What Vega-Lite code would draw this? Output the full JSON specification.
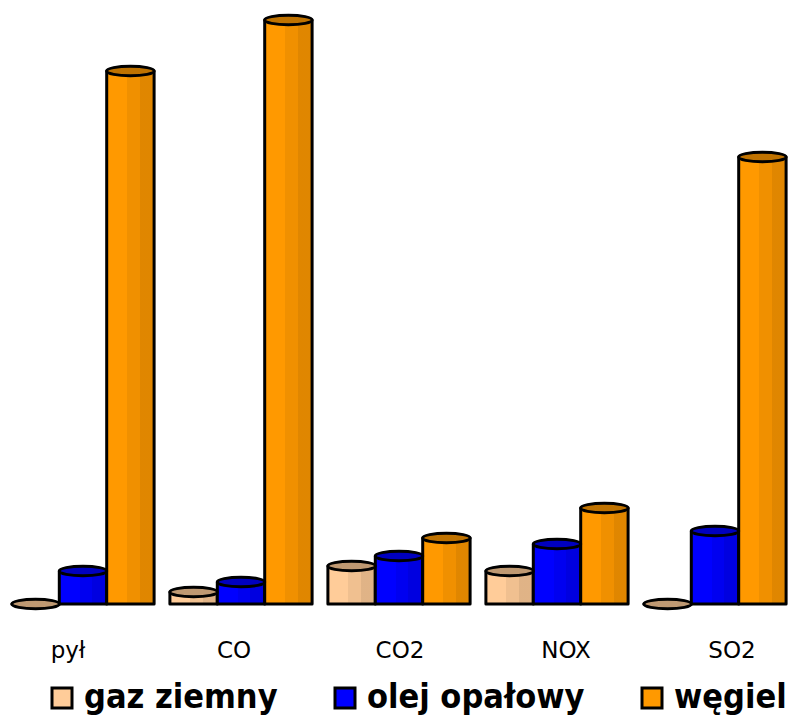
{
  "$schema": "https://vega.github.io/schema/vega-lite/v6.json",
  "autosize": "none",
  "width": 790,
  "height": 604,
  "padding": {"left": 4, "top": 0, "right": 7, "bottom": 112},
  "background": "white",
  "config": {"view": {"stroke": null}},
  "data": {
    "values": [
      {"zanieczyszczenie": "pył", "paliwo": "gaz ziemny", "emisja": 0},
      {"zanieczyszczenie": "pył", "paliwo": "olej opałowy", "emisja": 33},
      {"zanieczyszczenie": "pył", "paliwo": "węgiel", "emisja": 533},
      {"zanieczyszczenie": "CO", "paliwo": "gaz ziemny", "emisja": 12},
      {"zanieczyszczenie": "CO", "paliwo": "olej opałowy", "emisja": 22},
      {"zanieczyszczenie": "CO", "paliwo": "węgiel", "emisja": 584},
      {"zanieczyszczenie": "CO2", "paliwo": "gaz ziemny", "emisja": 38},
      {"zanieczyszczenie": "CO2", "paliwo": "olej opałowy", "emisja": 48},
      {"zanieczyszczenie": "CO2", "paliwo": "węgiel", "emisja": 66},
      {"zanieczyszczenie": "NOX", "paliwo": "gaz ziemny", "emisja": 33},
      {"zanieczyszczenie": "NOX", "paliwo": "olej opałowy", "emisja": 60},
      {"zanieczyszczenie": "NOX", "paliwo": "węgiel", "emisja": 96},
      {"zanieczyszczenie": "SO2", "paliwo": "gaz ziemny", "emisja": 0},
      {"zanieczyszczenie": "SO2", "paliwo": "olej opałowy", "emisja": 73},
      {"zanieczyszczenie": "SO2", "paliwo": "węgiel", "emisja": 447}
    ]
  },
  "encoding": {
    "x": {
      "field": "zanieczyszczenie",
      "type": "nominal",
      "sort": ["pył", "CO", "CO2", "NOX", "SO2"],
      "scale": {"paddingInner": 0.1, "paddingOuter": 0.05},
      "axis": {
        "title": null,
        "labelAngle": 0,
        "domain": false,
        "ticks": false,
        "labelFont": "DejaVu Sans",
        "labelFontSize": 23,
        "labelColor": "black",
        "labelPadding": 35,
        "labelOffset": {"expr": "-15 + 32 * datum.index"}
      }
    },
    "xOffset": {
      "field": "paliwo",
      "type": "nominal",
      "sort": ["gaz ziemny", "olej opałowy", "węgiel"]
    },
    "y": {
      "field": "emisja",
      "type": "quantitative",
      "scale": {"domain": [0, 604]},
      "axis": null
    }
  },
  "layer": [
    {
      "mark": {"type": "bar", "stroke": "black", "strokeWidth": 3, "strokeJoin": "round"},
      "encoding": {
        "color": {
          "field": "paliwo",
          "type": "nominal",
          "scale": {
            "domain": ["gaz ziemny", "olej opałowy", "węgiel"],
            "range": ["#FFCC99", "#0000FF", "#FF9900"]
          },
          "legend": {
            "title": null,
            "orient": "none",
            "direction": "horizontal",
            "legendX": 41,
            "legendY": 681,
            "symbolType": "square",
            "symbolSize": 400,
            "symbolStrokeColor": "black",
            "symbolStrokeWidth": 3,
            "symbolOpacity": 1,
            "labelFont": "'DejaVu Sans Condensed', 'Liberation Sans', sans-serif",
            "labelFontWeight": "bold",
            "labelFontSize": 34,
            "labelColor": "black",
            "labelOffset": 5,
            "columnPadding": 50,
            "labelLimit": 400
          }
        }
      }
    },
    {
      "mark": {
        "type": "bar",
        "strokeWidth": 0,
        "fill": {
          "gradient": "linear",
          "x1": 0, "x2": 1, "y1": 0, "y2": 0,
          "stops": [
            {"offset": 0, "color": "rgba(0,0,0,0)"},
            {"offset": 0.43, "color": "rgba(0,0,0,0)"},
            {"offset": 0.43, "color": "rgba(0,0,0,0.06)"},
            {"offset": 0.7, "color": "rgba(0,0,0,0.06)"},
            {"offset": 0.7, "color": "rgba(0,0,0,0.12)"},
            {"offset": 1, "color": "rgba(0,0,0,0.12)"}
          ]
        }
      }
    },
    {
      "mark": {
        "type": "point",
        "shape": "M-1,0A1,0.2,0,1,0,1,0A1,0.2,0,1,0,-1,0Z",
        "size": 2247,
        "filled": true,
        "opacity": 1
      },
      "encoding": {
        "color": {"field": "paliwo", "type": "nominal"}
      }
    },
    {
      "mark": {
        "type": "point",
        "shape": "M-1,0A1,0.2,0,1,0,1,0A1,0.2,0,1,0,-1,0Z",
        "size": 2247,
        "filled": false,
        "fill": "rgba(0,0,0,0.25)",
        "stroke": "black",
        "strokeWidth": 3,
        "opacity": 1
      }
    }
  ]
}
